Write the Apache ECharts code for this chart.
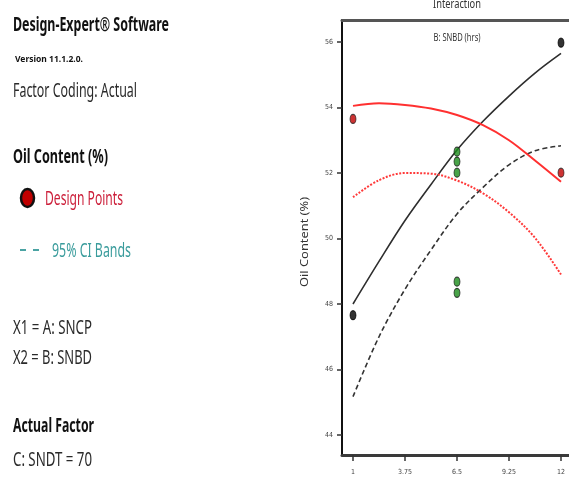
<!DOCTYPE html>
<html>
<head>
<meta charset="utf-8">
<script src="https://cdn.jsdelivr.net/npm/echarts@6/dist/echarts.min.js"></script>
<style>
  html, body { margin: 0; padding: 0; background: #fff; }
  #chart { width: 569px; height: 481px; }
</style>
</head>
<body>
<div id="chart"></div>
<script>
// Axis ticks
const xTicks = [1, 3.75, 6.5, 9.25, 12];
const yTicks = [44, 46, 48, 50, 52, 54, 56];

// Interaction curves sampled along A: SNCP (black = B low, red = B high)
const curveX   = [1, 2.375, 3.75, 5.125, 6.5, 7.875, 9.25, 10.625, 12];
const lowMean  = [48.0, 49.3, 50.55, 51.65, 52.7, 53.58, 54.35, 55.05, 55.65];
const lowCI    = [45.17, 47.0, 48.45, 49.65, 50.75, 51.56, 52.25, 52.68, 52.83];
const highMean = [54.05, 54.13, 54.08, 53.97, 53.77, 53.46, 53.0, 52.38, 51.73];
const highCI   = [51.26, 51.78, 52.0, 51.98, 51.77, 51.38, 50.8, 50.02, 48.9];

// Design points
const redPts   = [[1, 53.65], [12, 52.01]];
const blackPts = [[1, 47.66], [12, 55.98]];
const greenPts = [[6.5, 52.65], [6.5, 52.35], [6.5, 52.01], [6.5, 48.68], [6.5, 48.34]];

const pair = (xs, ys) => xs.map((x, i) => [x, ys[i]]);

// Condensed-looking text: draw at the given size, squeeze horizontally to a width
const measureCtx = document.createElement('canvas').getContext('2d');
function squeezedText(str, x, cy, size, weight, color, width, align, rotation) {
  const family = '"Noto Sans", "Open Sans", sans-serif';
  measureCtx.font = weight + ' ' + size + 'px ' + family;
  const w = measureCtx.measureText(str).width;
  return {
    type: 'text',
    x: x, y: cy,
    scaleX: width / w,
    rotation: rotation || 0,
    silent: true,
    style: {
      text: str,
      fill: color,
      font: weight + ' ' + size + 'px ' + family,
      align: align || 'left',
      verticalAlign: 'middle'
    }
  };
}

const chart = echarts.init(document.getElementById('chart'), null, { renderer: 'canvas' });

const tickFont = { fontSize: 7, color: '#444', fontFamily: '"Liberation Sans Narrow", "DejaVu Sans Condensed", sans-serif' };

chart.setOption({
  animation: false,
  backgroundColor: '#fff',
  grid: { left: 342, top: 20, right: 0, bottom: 26, containLabel: false },
  xAxis: [{
    type: 'value', min: 0.418, max: 12.423,
    axisLine: { show: true, onZero: false, lineStyle: { color: '#3a3a3a', width: 3 } },
    axisTick: { show: true, inside: false, length: 6, customValues: xTicks, lineStyle: { color: '#333', width: 1.5 } },
    axisLabel: Object.assign({ customValues: xTicks, margin: 14 }, tickFont),
    splitLine: { show: false }
  }, {
    type: 'value', position: 'top', min: 0.418, max: 12.423,
    axisLine: { show: true, lineStyle: { color: '#555', width: 3 } },
    axisTick: { show: false }, axisLabel: { show: false }, splitLine: { show: false }
  }],
  yAxis: {
    type: 'value', min: 43.389, max: 56.672,
    axisLine: { show: true, onZero: false, lineStyle: { color: '#111', width: 2 } },
    axisTick: { show: true, inside: false, length: 5, customValues: yTicks, lineStyle: { color: '#333', width: 1.5 } },
    axisLabel: Object.assign({ customValues: yTicks, margin: 9 }, tickFont),
    splitLine: { show: false }
  },
  series: [
    { type: 'line', data: pair(curveX, lowMean), smooth: 0.35, symbol: 'none',
      lineStyle: { color: '#2e2e2e', width: 1.6 }, z: 3 },
    { type: 'line', data: pair(curveX, lowCI), smooth: 0.35, symbol: 'none',
      lineStyle: { color: '#333', width: 1.6, type: [5, 3] }, z: 3 },
    { type: 'line', data: pair(curveX, highMean), smooth: 0.35, symbol: 'none',
      lineStyle: { color: '#ff3030', width: 2 }, z: 3 },
    { type: 'line', data: pair(curveX, highCI), smooth: 0.35, symbol: 'none',
      lineStyle: { color: '#ff3a3a', width: 2, type: [2, 1.5] }, z: 3 },
    { type: 'scatter', data: redPts, symbol: 'circle', symbolSize: [6, 9],
      itemStyle: { color: '#c00000', borderColor: '#222', borderWidth: 1 }, z: 5 },
    { type: 'scatter', data: blackPts, symbol: 'circle', symbolSize: [6, 9],
      itemStyle: { color: '#000', borderColor: '#000', borderWidth: 1 }, z: 5 },
    { type: 'scatter', data: greenPts, symbol: 'circle', symbolSize: [6, 9],
      itemStyle: { color: '#1c8c1c', borderColor: '#1a1a1a', borderWidth: 1 }, z: 5 }
  ],
  graphic: [
    // side panel
    squeezedText('Design-Expert® Software', 13, 25, 20, 'bold', '#111', 156),
    squeezedText('Version 11.1.2.0.', 15, 59.5, 9, 'bold', '#111', 68),
    squeezedText('Factor Coding: Actual', 13, 91, 20, 'normal', '#2a2a2a', 124),
    squeezedText('Oil Content (%)', 13, 157, 20, 'bold', '#111', 95),
    { type: 'ellipse', shape: { cx: 27.5, cy: 198, rx: 6.5, ry: 9 }, silent: true,
      style: { fill: '#c00000', stroke: '#111', lineWidth: 2.5 } },
    squeezedText('Design Points', 45, 199, 20, 'normal', '#cc1f3a', 78),
    { type: 'line', shape: { x1: 20, y1: 250, x2: 26, y2: 250 }, silent: true, style: { stroke: '#4aa3a3', lineWidth: 2 } },
    { type: 'line', shape: { x1: 33, y1: 250, x2: 39, y2: 250 }, silent: true, style: { stroke: '#4aa3a3', lineWidth: 2 } },
    squeezedText('95% CI Bands', 52, 251.5, 20, 'normal', '#3a9c9c', 79),
    squeezedText('X1 = A: SNCP', 13, 328, 20, 'normal', '#2a2a2a', 79),
    squeezedText('X2 = B: SNBD', 13, 358, 20, 'normal', '#2a2a2a', 79),
    squeezedText('Actual Factor', 13, 426, 20, 'bold', '#111', 81),
    squeezedText('C: SNDT = 70', 13, 460, 20, 'normal', '#2a2a2a', 79),
    // plot titles
    squeezedText('Interaction', 457, 5, 12, 'normal', '#333', 48, 'center'),
    squeezedText('B: SNBD (hrs)', 457, 38, 11, 'normal', '#333', 47, 'center'),
    squeezedText('Oil Content (%)', 305, 242, 11, 'normal', '#333', 90, 'center', Math.PI / 2)
  ]
});
</script>
</body>
</html>
